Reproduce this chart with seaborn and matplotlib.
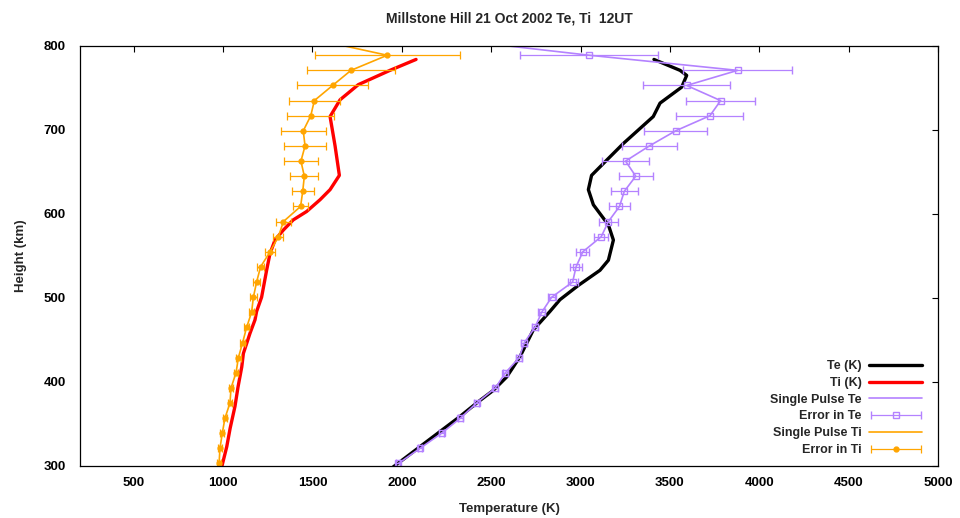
import matplotlib
matplotlib.use("Agg")
import matplotlib.pyplot as plt
import seaborn as sns
import pandas as pd
from matplotlib.container import ErrorbarContainer
from matplotlib.legend_handler import HandlerErrorbar

# ---- data ----
te_h = [299, 323, 341, 359, 375, 390, 406, 430, 462, 484, 498, 515, 533, 545, 569,
        587, 611, 629, 646, 664, 684, 716, 732, 751, 765, 771, 784]
te_t = [1953, 2102, 2214, 2326, 2419, 2512, 2587, 2661, 2736, 2829, 2885, 2988, 3109, 3156, 3184,
        3156, 3072, 3044, 3062, 3146, 3240, 3407, 3445, 3566, 3594, 3557, 3411]

ti_h = [299, 323, 345, 371, 394, 418, 434, 458, 474, 484, 501, 533, 553, 569, 581,
        593, 603, 617, 629, 646, 681, 716, 736, 754, 771, 784]
ti_t = [993, 1021, 1040, 1067, 1084, 1105, 1114, 1151, 1179, 1188, 1216, 1244, 1263, 1291, 1338,
        1393, 1468, 1543, 1599, 1651, 1627, 1599, 1655, 1757, 1934, 2080]

sp_h = [303, 321, 339, 357, 375, 393, 411, 429, 447, 465, 483, 501, 519, 537, 555,
        573, 591, 609, 627, 645, 663, 681, 699, 717, 735, 753, 771, 789, 807]
sp_te = [1981, 2102, 2223, 2328, 2419, 2524, 2580, 2657, 2686, 2745, 2783, 2839, 2956, 2975, 3013,
         3116, 3156, 3218, 3245, 3309, 3252, 3385, 3532, 3724, 3784, 3594, 3879, 3049, 2310]
sp_te_err = [12, 12, 13, 13, 14, 15, 15, 16, 17, 18, 20, 22, 28, 33, 37,
             40, 51, 57, 76, 95, 130, 154, 175, 187, 194, 245, 304, 387, 0]
sp_ti = [978, 983, 996, 1011, 1039, 1045, 1073, 1086, 1110, 1132, 1160, 1170, 1188, 1210, 1263,
         1310, 1338, 1434, 1446, 1455, 1436, 1459, 1449, 1491, 1511, 1613, 1716, 1919, 1530]
sp_ti_err = [10, 10, 11, 11, 12, 12, 13, 13, 14, 15, 15, 18, 20, 22, 28,
             28, 41, 42, 62, 78, 97, 117, 127, 132, 144, 200, 247, 405, 0]

title = "Millstone Hill 21 Oct 2002 Te, Ti  12UT"
x_ticks = [500, 1000, 1500, 2000, 2500, 3000, 3500, 4000, 4500, 5000]
y_ticks = [300, 400, 500, 600, 700, 800]

PURPLE = "#b482ff"
ORANGE = "#ffa500"

sns.set_theme(style="white")
plt.rcParams["font.family"] = ["Liberation Sans", "DejaVu Sans"]
plt.rcParams["font.weight"] = "bold"

fig = plt.figure(figsize=(9.6, 5.18), dpi=100)
ax = fig.add_axes([80 / 960, 1 - 466 / 518, (938 - 80) / 960, (466 - 46) / 518])

df_te = pd.DataFrame({"T": te_t, "h": te_h})
df_ti = pd.DataFrame({"T": ti_t, "h": ti_h})
df_sp = pd.DataFrame({"h": sp_h, "te": sp_te, "te_err": sp_te_err,
                      "ti": sp_ti, "ti_err": sp_ti_err})

sns.lineplot(data=df_te, x="T", y="h", sort=False, estimator=None, color="black",
             lw=2.4, ax=ax, label="Te (K)")
sns.lineplot(data=df_ti, x="T", y="h", sort=False, estimator=None, color="red",
             lw=2.4, ax=ax, label="Ti (K)")
sns.lineplot(data=df_sp, x="te", y="h", sort=False, estimator=None, color=PURPLE,
             lw=1.2, ax=ax, label="Single Pulse Te")
ax.errorbar(df_sp["te"], df_sp["h"], xerr=df_sp["te_err"], fmt="s", ms=5,
            mfc="none", mec=PURPLE, mew=1.0, ecolor=PURPLE, elinewidth=0.9,
            capsize=3, capthick=0.9, label="Error in Te")
sns.lineplot(data=df_sp, x="ti", y="h", sort=False, estimator=None, color=ORANGE,
             lw=1.2, ax=ax, label="Single Pulse Ti")
ax.errorbar(df_sp["ti"], df_sp["h"], xerr=df_sp["ti_err"], fmt="o", ms=3.5,
            mfc=ORANGE, mec=ORANGE, ecolor=ORANGE, elinewidth=0.9,
            capsize=3, capthick=0.9, label="Error in Ti")

ax.set_xlim(200, 5000)
ax.set_ylim(300, 800)
ax.set_xticks(x_ticks)
ax.set_yticks(y_ticks)
ax.tick_params(direction="in", length=4, width=0.8, top=True, right=True,
               labelsize=9.5, colors="black")
ax.tick_params(axis="x", pad=8)
ax.tick_params(axis="y", pad=10)
for lab in ax.get_xticklabels() + ax.get_yticklabels():
    lab.set_fontweight("bold")
for s in ax.spines.values():
    s.set_color("black")
    s.set_linewidth(0.9)

ax.set_xlabel("Temperature (K)", fontsize=9.5, fontweight="bold", labelpad=10)
ax.set_ylabel("Height (km)", fontsize=9.5, fontweight="bold", labelpad=12)
ax.set_title(title, fontsize=10, fontweight="bold", pad=17)

handles, labels = ax.get_legend_handles_labels()
order = ["Te (K)", "Ti (K)", "Single Pulse Te", "Error in Te", "Single Pulse Ti", "Error in Ti"]
hmap = dict(zip(labels, handles))
ax.legend([hmap[k] for k in order], order, loc="lower right",
          bbox_to_anchor=(0.987, 0.012), borderaxespad=0, frameon=False,
          markerfirst=False, handlelength=4.2, handletextpad=0.6, labelspacing=0.38,
          prop={"weight": "bold", "size": 9},
          handler_map={ErrorbarContainer: HandlerErrorbar(xerr_size=2.0)})

fig.savefig("out.png", dpi=100)
